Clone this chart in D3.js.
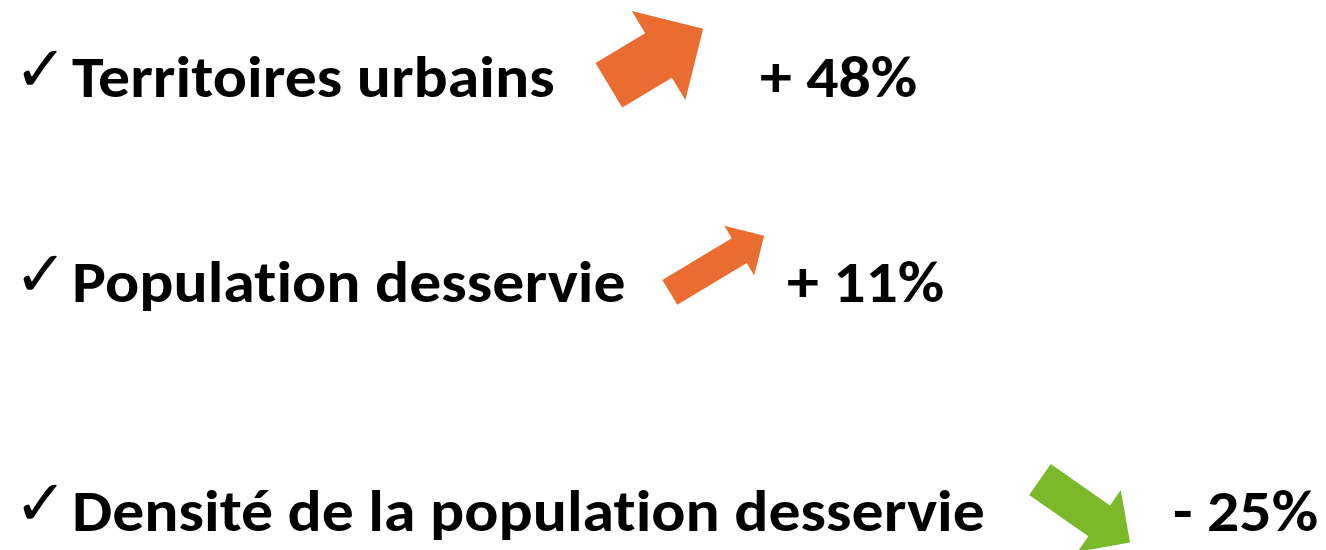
<!DOCTYPE html>
<html>
<head>
<meta charset="utf-8">
<script src="https://cdn.jsdelivr.net/npm/d3@7"></script>
<style>
body { margin: 0; background: #fff; }
</style>
</head>
<body>
<div id="chart"></div>
<script>
// data
var categories = ["Territoires urbains", "Population desservie", "Densité de la population desservie"];
var changes = [48, 11, -25];

// layout
var width = 1326, height = 550;
var baselines = [97, 302, 531];
var arrowCenters = [[656, 57], [717, 264], [1085, 511]];
var labelX = [760, 787, 1173];
var arrowLen = 110;
var stretch = 1.1; // Calibri is wider than the fallback font at same height

var svg = d3.select("#chart")
	.append("svg")
	.attr("width", width)
	.attr("height", height);

var rows = categories.map(function(c, i) {
	return { name: c, value: changes[i], idx: i };
});

var y = d3.scaleOrdinal().domain(categories).range(baselines);

// shaft half width grows with size of the change
var w = d3.scaleLinear().domain([11, 48]).range([14.5, 26]);
// up for a rise, down for a fall
var angle = d3.scaleThreshold().domain([0]).range([35, -31]);
var color = d3.scaleThreshold().domain([0]).range(["#7bb92b", "#eb6c30"]);

function fmt(v) {
	return (v < 0 ? "- " : "+ ") + Math.abs(v) + "%";
}

function arrowPath(hw) {
	var L = arrowLen / 2;
	var pts = [[-L, -hw], [L - 2 * hw, -hw], [L - 2 * hw, -2 * hw], [L, 0],
		[L - 2 * hw, 2 * hw], [L - 2 * hw, hw], [-L, hw]];
	return d3.line()(pts) + "Z";
}

function widen(sel) {
	sel.each(function() {
		var len = this.getComputedTextLength();
		d3.select(this)
			.attr("textLength", len * stretch)
			.attr("lengthAdjust", "spacingAndGlyphs");
	});
}

var font = "Carlito, Calibri, Lato, 'Open Sans', sans-serif";

var g = svg.selectAll("g.row")
	.data(rows)
	.enter()
	.append("g")
	.attr("class", "row");

g.append("text")
	.attr("x", 14)
	.attr("y", function(d) { return y(d.name) - 6; })
	.style("font-family", "'DejaVu Sans', sans-serif")
	.style("font-size", "64px")
	.text("\u2713");

g.append("text")
	.attr("x", 72)
	.attr("y", function(d) { return y(d.name); })
	.style("font-family", font)
	.style("font-weight", "bold")
	.style("font-size", "58px")
	.style("font-variant-ligatures", "none")
	.text(function(d) { return d.name; })
	.call(widen);

g.append("path")
	.attr("d", function(d) { return arrowPath(w(Math.abs(d.value))); })
	.attr("transform", function(d) {
		var c = arrowCenters[d.idx];
		return "translate(" + c[0] + "," + c[1] + ")rotate(" + angle(d.value) + ")";
	})
	.attr("fill", function(d) { return color(d.value); });

g.append("text")
	.attr("x", function(d) { return labelX[d.idx]; })
	.attr("y", function(d) { return y(d.name); })
	.style("font-family", font)
	.style("font-weight", "bold")
	.style("font-size", "58px")
	.text(function(d) { return fmt(d.value); })
	.call(widen);
</script>
</body>
</html>
